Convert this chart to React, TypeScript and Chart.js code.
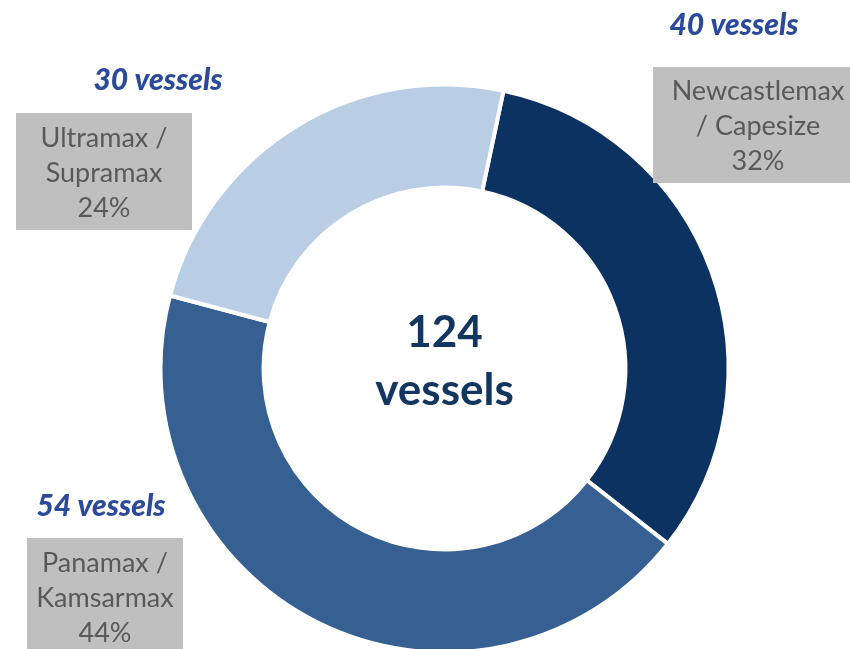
import React, { useEffect, useRef } from 'react';
import { Chart, registerables } from 'chart.js';

Chart.register(...registerables);

const categories = ['Newcastlemax / Capesize', 'Panamax / Kamsarmax', 'Ultramax / Supramax'];
const categoryLines = [
  ['Newcastlemax', '/ Capesize'],
  ['Panamax /', 'Kamsarmax'],
  ['Ultramax /', 'Supramax'],
];
const vesselCounts = [40, 54, 30];
const sliceColors = ['#0B3260', '#376092', '#B9CDE5'];
const unitLabel = 'vessels';

// layout of the annotation boxes (positions only)
const labelLayout = [
  { box: [653, 67, 220, 116], textX: 758, baseY: 100, countX: 734, countY: 35 },
  { box: [27, 538, 156, 130], textX: 105, baseY: 572, countX: 101, countY: 516 },
  { box: [16, 113, 176, 117], textX: 104, baseY: 147, countX: 158, countY: 90 },
];

const FONT = 'Lato, "Open Sans", sans-serif';

const labelPlugin = {
  id: 'vesselLabels',
  afterDraw(chart: any) {
    const ctx = chart.ctx as CanvasRenderingContext2D;
    const data = chart.data.datasets[0].data as number[];
    const total = data.reduce((a, b) => a + b, 0);
    ctx.save();
    data.forEach((v, i) => {
      const L = labelLayout[i];
      ctx.fillStyle = '#BFBFBF';
      ctx.fillRect(L.box[0], L.box[1], L.box[2], L.box[3]);
      ctx.fillStyle = '#595959';
      ctx.font = `400 27px ${FONT}`;
      ctx.textAlign = 'center';
      ctx.textBaseline = 'alphabetic';
      const lines = [...categoryLines[i], `${Math.round((v / total) * 100)}%`];
      lines.forEach((t, k) => ctx.fillText(t, L.textX, L.baseY + k * 35));
      ctx.fillStyle = '#2C4A9A';
      ctx.font = `italic 900 30px ${FONT}`;
      ctx.fillText(`${v} ${unitLabel}`, L.countX, L.countY);
    });
    const meta = chart.getDatasetMeta(0);
    const arc = meta.data[0];
    const cx = arc.x;
    ctx.fillStyle = '#12365F';
    ctx.font = `700 44px ${FONT}`;
    ctx.fillText(String(total), cx, 347);
    ctx.fillText(unitLabel, cx, 405);
    ctx.restore();
  },
};

export default function App() {
  const ref = useRef<HTMLCanvasElement | null>(null);
  useEffect(() => {
    if (!ref.current) return;
    const chart = new Chart(ref.current, {
      type: 'doughnut',
      data: {
        labels: categories,
        datasets: [
          {
            data: vesselCounts,
            backgroundColor: sliceColors,
            borderColor: '#FFFFFF',
            borderWidth: 4,
            hoverOffset: 0,
          },
        ],
      },
      options: {
        responsive: false,
        animation: false,
        rotation: 12,
        radius: 284,
        cutout: '63.7%',
        layout: { padding: { left: 100, right: 61, top: 100, bottom: 12 } },
        plugins: {
          legend: { display: false },
          tooltip: { enabled: false },
        },
      },
      plugins: [labelPlugin],
    });
    return () => chart.destroy();
  }, []);
  return (
    <div style={{ position: 'absolute', left: 0, top: 0, width: 850, height: 649, background: '#fff' }}>
      <canvas ref={ref} width={850} height={649} />
    </div>
  );
}
